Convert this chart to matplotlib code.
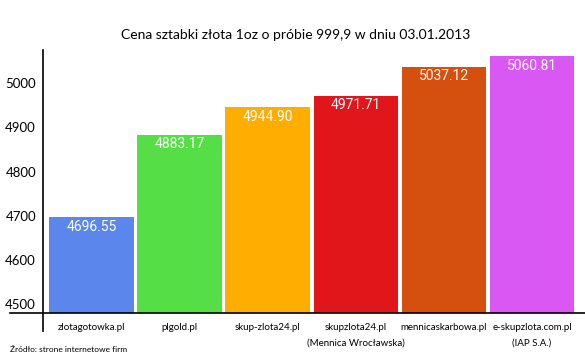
import matplotlib.pyplot as plt
from matplotlib.lines import Line2D

# dane z wykresu
firmy = ['zlotagotowka.pl', 'plgold.pl', 'skup-zlota24.pl', 'skupzlota24.pl\n(Mennica Wrocławska)',
         'mennicaskarbowa.pl', 'e-skupzlota.com.pl\n(IAP S.A.)']
ceny = [4696.55, 4883.17, 4944.90, 4971.71, 5037.12, 5060.81]
kolory = ['#5B87EC', '#55DE45', '#FFAD00', '#E0161A', '#D5500E', '#D957F2']
yticks = [4500, 4600, 4700, 4800, 4900, 5000]

plt.rcParams['font.family'] = ['Lato', 'DejaVu Sans']

fig = plt.figure(figsize=(5.85, 3.59), dpi=100)
ax = fig.add_axes([0.0735, 0.128, 0.9265, 0.733])

x = list(range(len(ceny)))
ax.bar(x, ceny, width=0.96, color=kolory, bottom=0)
for xi, v in zip(x, ceny):
    ax.text(xi, v - 6, f'{v:.2f}', color='white', ha='center', va='top',
            fontsize=10, family=['Roboto', 'DejaVu Sans'])

ax.set_xlim(-0.55, 5.6)
ax.set_ylim(4480, 5075)
ax.set_yticks(yticks)
ax.set_yticklabels([str(t) for t in yticks], fontsize=9.5)
ax.set_xticks(x)
ax.set_xticklabels(firmy, fontsize=7, linespacing=2.0, va='top')
ax.tick_params(length=0, pad=5)
ax.tick_params(axis='x', pad=7)
for s in ax.spines.values():
    s.set_visible(False)

# osie jak w oryginale (wystajace)
fig.add_artist(Line2D([10/585, 1], [1-313/359, 1-313/359], color='black', lw=1.2))
fig.add_artist(Line2D([43/585, 43/585], [1-50/359, 1-331/359], color='black', lw=1.2))

fig.text(0.505, 1-35/359, 'Cena sztabki złota 1oz o próbie 999,9 w dniu 03.01.2013',
         ha='center', va='center', fontsize=10)
fig.text(10/585, 1-349/359, 'Źródło: strone internetowe firm', fontsize=6, va='center')

fig.savefig('out.png', dpi=100)
